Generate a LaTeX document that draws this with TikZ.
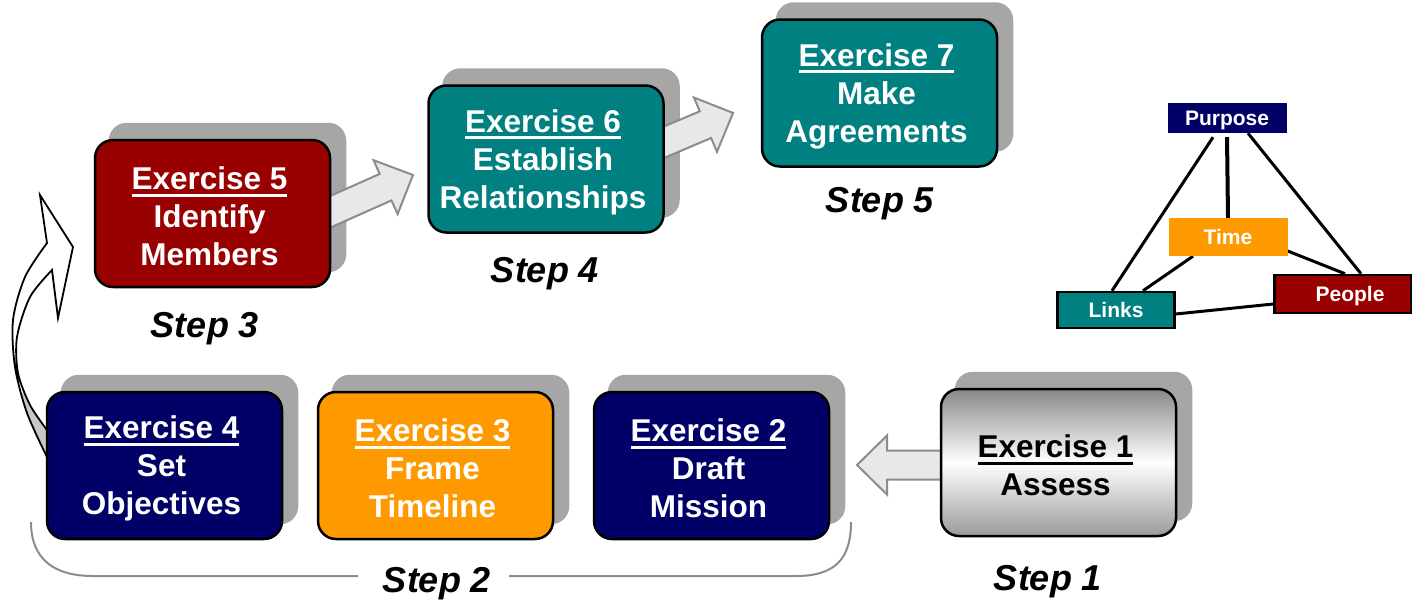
\documentclass[tikz,border=0pt]{standalone}
\usepackage{fontspec}
\setmainfont{Liberation Sans}
\usetikzlibrary{calc}

\definecolor{exred}{HTML}{990000}
\definecolor{exteal}{HTML}{008080}
\definecolor{exnavy}{HTML}{000066}
\definecolor{exorange}{HTML}{FF9900}
\definecolor{shadowgray}{HTML}{A6A6A6}
\definecolor{arrowfill}{HTML}{E8E8E8}
\definecolor{arrowline}{HTML}{8C8C8C}
\definecolor{steelA}{HTML}{888888}
\definecolor{steelB}{HTML}{9A9A9A}
\definecolor{ribbongray}{HTML}{C8C8C8}

\pgfdeclarelayer{shadowlayer}
\pgfdeclarelayer{arrowlayer}
\pgfsetlayers{shadowlayer,arrowlayer,main}

% underlined heading inside a box
\newcommand\exul[1]{\setbox0\hbox{#1}\rlap{\rule[-7pt]{\wd0}{3pt}}\box0}

\tikzset{
  exbox/.style={rectangle, rounded corners=18pt, minimum width=235pt,
    minimum height=147pt, line width=2.5pt, draw=black, inner sep=0pt},
  extext/.style={align=center, inner sep=0pt, text=white,
    font=\bfseries\fontsize{31.5}{38}\selectfont},
  boxshadow/.style={fill=shadowgray, rounded corners=18pt},
  blockarr/.style={fill=arrowfill, draw=arrowline, line width=2pt, line join=miter},
  steplabel/.style={font=\bfseries\itshape\fontsize{36}{40}\selectfont, inner sep=0pt, text depth=0pt},
  tag/.style={rectangle, inner sep=0pt, text=white, text depth=0pt,
    font=\bfseries\fontsize{21}{24}\selectfont},
  link/.style={line width=3pt},
  bracket/.style={draw=arrowline, line width=2pt},
}

% exercise box with its offset shadow and its text:
% name, centre, box style, text style, number, body
\newcommand\exbox[6]{%
  \node[exbox,#3] (#1) at #2 {};
  \node[extext,#4] (#1-text) at ([xshift=-3pt,yshift=-3pt]#1.center) {\exul{Exercise #5}\\#6};
  \begin{pgfonlayer}{shadowlayer}
    \fill[boxshadow] ([shift={(15pt,16pt)}]#1.south west) rectangle ([shift={(15pt,16pt)}]#1.north east);
  \end{pgfonlayer}}

% block arrow: tail point, angle, length
\newcommand\blockarrow[3]{%
  \begin{pgfonlayer}{arrowlayer}
  \begin{scope}[shift={#1}, rotate=#2]
    \draw[blockarr] (0,-14.5) -- ({#3-30},-14.5) -- ({#3-30},-29.5) -- (#3,0)
      -- ({#3-30},29.5) -- ({#3-30},14.5) -- (0,14.5) -- cycle;
  \end{scope}
  \end{pgfonlayer}}

\begin{document}
\begin{tikzpicture}[x=1pt,y=-1pt]
\useasboundingbox (0,0) rectangle (1412,606);

% exercise boxes
\exbox{ex5}{(212.5,213.5)}{fill=exred}{}{5}{Identify\\Members}
\exbox{ex6}{(546,159)}{fill=exteal}{}{6}{Establish\\Relationships}
\exbox{ex7}{(879.5,93)}{fill=exteal}{}{7}{Make\\Agreements}
\exbox{ex4}{(164.5,465.5)}{fill=exnavy}{}{4}{Set\\Objectives}
\exbox{ex3}{(435.5,465.5)}{fill=exorange}{}{3}{Frame\\Timeline}
\exbox{ex2}{(711.5,465.5)}{fill=exnavy}{}{2}{Draft\\Mission}
\exbox{ex1}{(1058.5,462.5)}{top color=steelA, bottom color=steelB, middle color=white}{text=black}{1}{Assess}

% block arrows between steps
\blockarrow{(312.5,219.7)}{24}{110}
\blockarrow{(641,152)}{23}{100}
\blockarrow{(977,465)}{180}{120}

% curved arrow from Exercise 4 up to Exercise 5
\begin{pgfonlayer}{arrowlayer}
  \path[save path=\uturn]
    plot[smooth] coordinates {(47,457) (27,413) (15,367) (13,320) (25,277) (47,243)}
    -- (40,195) -- (73,247) -- (58,318) -- (52,270)
    -- plot[smooth] coordinates {(52,270) (30,297) (17,337) (18,373) (30,405) (47,430)}
    -- cycle;
  \fill[white, use path=\uturn];
  \begin{scope}
    \clip (0,393) rectangle (60,470);
    \fill[ribbongray, use path=\uturn];
  \end{scope}
  \draw[black, line width=1.8pt, line join=miter, use path=\uturn];
\end{pgfonlayer}

% step labels
\node[steplabel] (step3) at (205,325) {Step 3};
\node[steplabel] (step4) at (545,270) {Step 4};
\node[steplabel] (step5) at (880,200) {Step 5};
\node[steplabel] (step2) at (437,580) {Step 2};
\node[steplabel] (step1) at (1048,578) {Step 1};

% bracket grouping exercises 2 to 4
\draw[bracket] (31,522) .. controls (31,560) and (55,576) .. (93,576) -- (358,576);
\draw[bracket] (509,576) -- (796,576) .. controls (834,576) and (851,560) .. (851,522);

% purpose / time / links / people triangle
\node[tag, fill=exnavy, minimum width=119pt, minimum height=30pt] (purpose) at (1227,118) {Purpose};
\node[tag, fill=exorange, minimum width=119pt, minimum height=38pt] (time) at (1228,237) {Time};
\node[tag, fill=exteal, draw=black, line width=2.5pt, minimum width=117pt, minimum height=36pt] (links) at (1116,310) {Links};
\node[tag, fill=exred, draw=black, line width=2.5pt, minimum width=137pt, minimum height=38pt] (people) at (1343,294) {\hspace{14pt}People};

\begin{pgfonlayer}{arrowlayer}
  \draw[link] ([xshift=-14pt,yshift=-4pt]purpose.south) -- ([xshift=-4pt]links.north);
  \draw[link, line width=4pt] ([yshift=-4pt]purpose.south) -- (time.north);
  \draw[link] ([xshift=21pt]purpose.south) -- ([xshift=18pt]people.north);
  \draw[link] ([xshift=-35pt]time.south) -- ([xshift=27pt]links.north);
  \draw[link] ([yshift=-14pt]time.east) -- ([xshift=2pt]people.north);
  \draw[link] ([yshift=-4pt]links.east) -- ([yshift=-10pt]people.west);
\end{pgfonlayer}
\end{tikzpicture}
\end{document}
